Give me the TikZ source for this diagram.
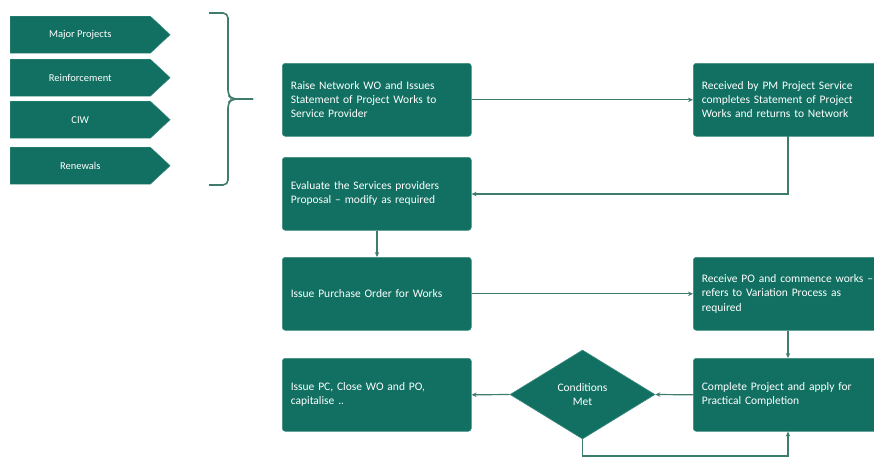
\documentclass[tikz,border=0pt]{standalone}
\usepackage{fontspec}
\setmainfont{Carlito}
\usetikzlibrary{shapes.geometric,shapes.symbols,arrows.meta}
\definecolor{boxteal}{RGB}{17,112,98}
\definecolor{lineteal}{RGB}{62,124,110}
\tikzset{
  procbox/.style={draw=boxteal!80!white, line width=0.6pt, fill=boxteal, rounded corners=3pt,
    minimum width=189pt, minimum height=73pt, text width=172pt, align=left,
    inner xsep=8pt, text=white, font=\fontsize{11.5}{14.2}\selectfont, anchor=north west},
  chev/.style={signal, signal to=east, signal pointer angle=86, fill=boxteal, draw=boxteal!80!white,
    line width=0.4pt, minimum width=160pt, minimum height=37pt, inner sep=0pt, text=white,
    font=\fontsize{10.5}{12}\selectfont, anchor=north west},
  decide/.style={diamond, fill=boxteal, draw=boxteal!80!white, line width=0.6pt, inner sep=0pt,
    minimum width=145pt, minimum height=89pt, aspect=1.63, text=white, align=center,
    font=\fontsize{11.5}{14.5}\selectfont},
  conn/.style={draw=lineteal, line width=1.2pt, -{Stealth[length=5pt,width=4.5pt]}},
  bracestyle/.style={draw=lineteal, line width=1.6pt, rounded corners=5pt}
}
\begin{document}
\begin{tikzpicture}[x=1pt,y=-1pt]
\useasboundingbox (0,0) rectangle (874,458);
\clip (0,0) rectangle (874,458);
% category chevrons
\node[chev] (mp) at (10,16) {Major Projects};
\node[chev] (rf) at (10,59) {Reinforcement};
\node[chev] (ciw) at (10,101) {CIW};
\node[chev] (rn) at (10,147) {Renewals};
% brace
\coordinate (bt) at (209,13);
\coordinate (bb) at (209,185);
\coordinate (btip) at (253,99);
\draw[bracestyle] (bt) -- (228,13) -- (228,95) -- (232,99) -- (btip);
\draw[bracestyle] (btip) -- (232,99) -- (228,103) -- (228,185) -- (bb);
% process boxes
\node[procbox] (a) at (282,63) {Raise Network WO and Issues\\Statement of Project Works to\\Service Provider};
\node[procbox] (b) at (693,63) {Received by PM Project Service\\completes Statement of Project\\Works and returns to Network};
\node[procbox] (c) at (282,157) {Evaluate the Services providers\\Proposal -- modify as required};
\node[procbox] (d) at (282,257) {Issue Purchase Order for Works};
\node[procbox] (e) at (693,257) {Receive PO and commence works --\\refers to Variation Process as\\required};
\node[procbox] (f) at (282,358) {Issue PC, Close WO and PO,\\capitalise ..};
\node[procbox] (g) at (693,358) {Complete Project and apply for\\Practical Completion};
\node[decide] (dm) at (582.5,394.5) {Conditions\\Met};
% connectors
\draw[conn] (a.east) -- (b.west);
\coordinate (bc) at (788,136);
\draw[conn] (bc) |- (c.east |- 0,194);
\draw[conn] (c.south -| 377,0) -- (d.north -| 377,0);
\draw[conn] (d.east) -- (e.west);
\draw[conn] (e.south -| 788,0) -- (g.north -| 788,0);
\draw[conn] (g.west) -- (dm.east);
\draw[conn] (dm.west) -- (f.east);
\draw[conn] (dm.south) -- (582.5,456) -| (g.south -| 788,0);
\end{tikzpicture}
\end{document}
